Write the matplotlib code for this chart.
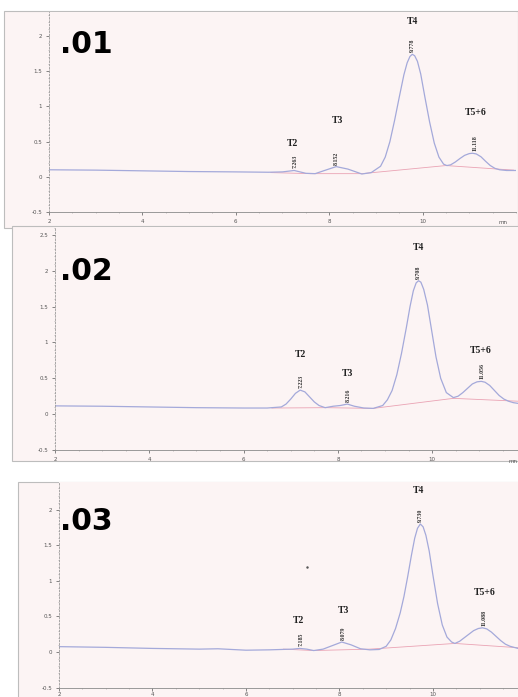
import matplotlib.pyplot as plt
from matplotlib.patches import Rectangle
from matplotlib.ticker import MultipleLocator, FormatStrFormatter

# traces: retention time (min) and absorbance
t1 = [2.0, 3.0, 4.0, 5.0, 6.0, 6.7, 7.0, 7.25, 7.5, 7.7, 7.9, 8.15, 8.4, 8.7, 8.9,
      9.1, 9.2, 9.3, 9.4, 9.5, 9.6, 9.67, 9.73, 9.78, 9.83, 9.89, 9.96, 10.05,
      10.15, 10.25, 10.35, 10.45, 10.52, 10.6, 10.7, 10.8, 10.9, 11.0, 11.07,
      11.15, 11.25, 11.35, 11.45, 11.55, 11.65, 11.8, 12.0]
a1 = [0.10, 0.095, 0.085, 0.075, 0.07, 0.065, 0.07, 0.09, 0.05, 0.045, 0.09, 0.145,
      0.11, 0.04, 0.06, 0.15, 0.28, 0.50, 0.80, 1.13, 1.45, 1.62, 1.71, 1.74, 1.72,
      1.64, 1.46, 1.13, 0.78, 0.48, 0.28, 0.18, 0.16, 0.17, 0.21, 0.26, 0.305, 0.33,
      0.335, 0.325, 0.285, 0.22, 0.16, 0.12, 0.10, 0.09, 0.09]

t2 = [2.0, 3.0, 4.0, 5.0, 6.0, 6.5, 6.8, 6.9, 7.0, 7.1, 7.2, 7.3, 7.4, 7.5, 7.6,
      7.73, 7.9, 8.05, 8.2, 8.35, 8.55, 8.75, 8.95, 9.05, 9.15, 9.25, 9.35, 9.45,
      9.53, 9.6, 9.66, 9.71, 9.76, 9.82, 9.9, 9.98, 10.08, 10.18, 10.3, 10.45,
      10.55, 10.65, 10.75, 10.85, 10.95, 11.04, 11.12, 11.22, 11.32, 11.42, 11.52,
      11.62, 11.72, 11.82]
a2 = [0.115, 0.11, 0.10, 0.09, 0.085, 0.085, 0.10, 0.14, 0.21, 0.29, 0.335, 0.31,
      0.24, 0.17, 0.12, 0.09, 0.11, 0.12, 0.14, 0.11, 0.085, 0.08, 0.12, 0.20, 0.33,
      0.55, 0.85, 1.20, 1.50, 1.72, 1.83, 1.86, 1.84, 1.74, 1.52, 1.20, 0.80, 0.50,
      0.30, 0.23, 0.25, 0.30, 0.36, 0.42, 0.45, 0.457, 0.445, 0.40, 0.33, 0.26,
      0.21, 0.18, 0.16, 0.15]

t3 = [2.0, 3.0, 4.0, 5.0, 5.4, 6.0, 6.5, 7.0, 7.15, 7.3, 7.45, 7.65, 7.85, 8.05,
      8.25, 8.45, 8.65, 8.85, 9.0, 9.1, 9.2, 9.3, 9.38, 9.46, 9.54, 9.61, 9.67,
      9.73, 9.79, 9.85, 9.92, 10.0, 10.1, 10.2, 10.3, 10.4, 10.47, 10.57, 10.67,
      10.77, 10.87, 10.97, 11.06, 11.15, 11.25, 11.35, 11.45, 11.55, 11.65, 11.82]
a3 = [0.075, 0.065, 0.05, 0.04, 0.045, 0.025, 0.03, 0.04, 0.05, 0.04, 0.02, 0.04,
      0.09, 0.14, 0.10, 0.045, 0.03, 0.035, 0.08, 0.17, 0.33, 0.55, 0.78, 1.06,
      1.36, 1.60, 1.74, 1.80, 1.76, 1.64, 1.42, 1.08, 0.68, 0.38, 0.21, 0.14, 0.12,
      0.15, 0.20, 0.25, 0.30, 0.33, 0.34, 0.325, 0.28, 0.22, 0.16, 0.11, 0.08, 0.05]

# integration baselines (pink)
bt1 = [6.75, 7.6, 8.7, 10.5, 11.95]
ba1 = [0.06, 0.045, 0.045, 0.16, 0.095]
bt2 = [6.6, 7.75, 8.75, 10.45, 11.82]
ba2 = [0.085, 0.09, 0.08, 0.22, 0.18]
bt3 = [6.8, 7.45, 8.65, 10.47, 11.82]
ba3 = [0.04, 0.02, 0.04, 0.12, 0.06]

peak_names = ['T2', 'T3', 'T4', 'T5+6']
rt1 = ['7.263', '8.152', '9.778', '11.118']
rt2 = ['7.223', '8.216', '9.708', '11.056']
rt3 = ['7.185', '8.079', '9.730', '11.088']
top1 = [0.09, 0.145, 1.74, 0.335]
top2 = [0.335, 0.14, 1.86, 0.457]
top3 = [0.05, 0.14, 1.80, 0.34]
tag_x1 = [7.22, 8.17, 9.78, 11.13]
tag_y1 = [0.48, 0.80, 2.20, 0.91]
tag_x2 = [7.2, 8.2, 9.7, 11.02]
tag_y2 = [0.83, 0.56, 2.32, 0.89]
tag_x3 = [7.13, 8.08, 9.7, 11.1]
tag_y3 = [0.44, 0.58, 2.27, 0.84]

samples = ['.01', '.02', '.03']

bg = '#fcf4f4'
trace = '#a4a9da'
base_col = '#eaa3b4'

fig = plt.figure(figsize=(5.18, 6.97), dpi=100)

# outer frames of the three pasted screenshots
for rect in [(0.0077, 0.6729, 0.992, 0.3113), (0.0232, 0.3386, 0.98, 0.3372),
             (0.0347, -0.01, 0.97, 0.3185)]:
    fig.patches.append(Rectangle(rect[:2], rect[2], rect[3], transform=fig.transFigure,
                                 facecolor=bg, edgecolor='#bdbdbd', lw=0.8, zorder=-10))

ax1 = fig.add_axes([0.0946, 0.6958, 0.9015, 0.2869])
ax2 = fig.add_axes([0.1062, 0.3544, 0.8938, 0.3200])
ax3 = fig.add_axes([0.1139, 0.0136, 0.8861, 0.2948])

panels = [
    (ax1, t1, a1, bt1, ba1, rt1, top1, tag_x1, tag_y1, (2, 12), (-0.5, 2.34), 0.795, 0.024),
    (ax2, t2, a2, bt2, ba2, rt2, top2, tag_x2, tag_y2, (2, 11.82), (-0.5, 2.61), 0.76, 0.011),
    (ax3, t3, a3, bt3, ba3, rt3, top3, tag_x3, tag_y3, (2, 11.82), (-0.5, 2.39), 0.766, 0.002),
]

for i, (ax, t, a, bt, ba, rt, top, tx, ty, xl, yl, lab_y, lab_x) in enumerate(panels):
    ax.set_facecolor(bg)
    ax.plot(bt, ba, color=base_col, lw=0.6)
    ax.plot(t, a, color=trace, lw=0.9)
    ax.set_xlim(*xl)
    ax.set_ylim(*yl)

    for name, r, h, x, y in zip(peak_names, rt, top, tx, ty):
        ax.annotate(r, (float(r), h), xytext=(0, 1.5), textcoords='offset points',
                    rotation=90, ha='center', va='bottom', fontsize=4.2,
                    family='Liberation Serif', weight='bold', color='#333333')
        ax.text(x, y, name, ha='center', va='center', fontsize=7,
                family='Liberation Serif', weight='bold', color='#222222')

    ax.text(lab_x, lab_y, samples[i], transform=ax.transAxes, fontsize=21.5,
            weight='bold', color='black', ha='left', va='baseline')
    if i < 2:
        ax.text(11.72, -0.62, 'mn', fontsize=4, color='#555555', ha='center', va='top')

    ax.xaxis.set_major_locator(MultipleLocator(2))
    ax.xaxis.set_minor_locator(MultipleLocator(0.5))
    ax.yaxis.set_major_locator(MultipleLocator(0.5))
    ax.yaxis.set_minor_locator(MultipleLocator(0.1))
    ax.yaxis.set_major_formatter(FormatStrFormatter('%g'))
    ax.xaxis.set_major_formatter(FormatStrFormatter('%g'))
    ax.tick_params(labelsize=4, colors='#555555', length=2, width=0.5, pad=3)
    ax.tick_params(which='minor', length=1, width=0.4, colors='#999999')
    for s in ['top', 'right']:
        ax.spines[s].set_visible(False)
    ax.spines['left'].set_color('#9a9a9a')
    ax.spines['left'].set_linestyle((0, (2, 2)))
    ax.spines['left'].set_linewidth(0.6)
    ax.spines['bottom'].set_color('#8a8a8a')
    ax.spines['bottom'].set_linewidth(0.6)
    ax.set_xticks([2, 4, 6, 8, 10])

# last panel's x labels sit right at the bottom edge
ax3.tick_params(axis='x', pad=1)

# stray mark in the last panel
ax3.plot([7.31], [1.19], marker='.', ms=1.5, color='#555555')

fig.savefig('out.png', dpi=100)
